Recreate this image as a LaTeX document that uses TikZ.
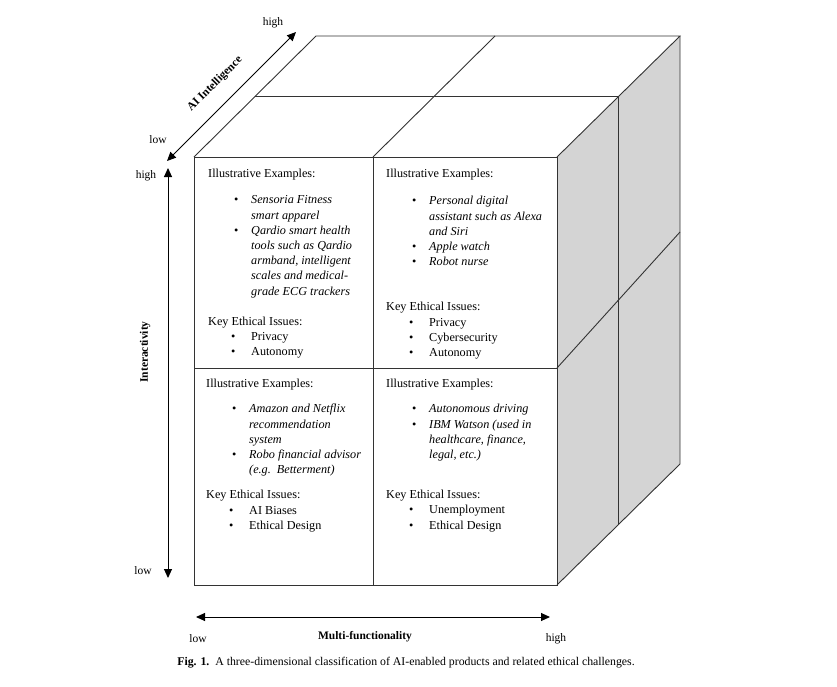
\documentclass[tikz,border=0pt]{standalone}
\usepackage{fontspec}
\setmainfont{Liberation Serif}
\usetikzlibrary{arrows.meta}
\newcommand{\exitem}[1]{\hspace*{26pt}\makebox[17pt][l]{\textbullet}\textit{#1}}
\newcommand{\excont}[1]{\hspace*{43pt}\textit{#1}}
\newcommand{\keyitem}[1]{\hspace*{23pt}\makebox[20pt][l]{\textbullet}#1}
\tikzset{
	edge/.style={line width=0.9pt, color=black!80},
	dimarrow/.style={line width=1pt, {Triangle[length=9pt,width=8pt]}-{Triangle[length=9pt,width=8pt]}},
	celltext/.style={anchor=north west, inner sep=0pt, align=left, font=\fontsize{12.2}{15.2}\selectfont},
	axislabel/.style={inner sep=0pt, font=\fontsize{11.5}{13}\selectfont},
	axistitle/.style={inner sep=0pt, font=\fontsize{11.5}{13}\selectfont\bfseries},
}

\begin{document}
\begin{tikzpicture}[x=1pt, y=-1pt]
			%%%%% START %%%%%
			\useasboundingbox (0, 0) rectangle (837, 686);
			
			\fill[color=black!17] (557, 157) -- (680, 36) -- (680, 464) -- (557, 585) -- cycle;
			
			\draw[edge] (194, 157) rectangle (557, 585);
			\draw[edge] (373, 157) -- (373, 585);
			\draw[edge] (194, 368) -- (557, 368);
			
			\draw[edge] (194, 157) -- (316, 36) -- (680, 36) -- (557, 157);
			\draw[edge] (255, 96) -- (618, 96);
			\draw[edge] (373, 157) -- (495, 36);
			
			\draw[edge] (680, 36) -- (680, 464) -- (557, 585);
			\draw[edge] (618, 96) -- (618, 524);
			\draw[edge] (557, 368) -- (680, 232);
			
			\node[celltext] (tl) at (208, 169) {Illustrative Examples:\\[11pt]
				\exitem{Sensoria Fitness}\\
				\excont{smart apparel}\\
				\exitem{Qardio smart health}\\
				\excont{tools such as Qardio}\\
				\excont{armband, intelligent}\\
				\excont{scales and medical-}\\
				\excont{grade ECG trackers}\\[15pt]
				Key Ethical Issues:\\
				\keyitem{Privacy}\\
				\keyitem{Autonomy}};
			
			\node[celltext] (tr) at (386, 169) {Illustrative Examples:\\[12pt]
				\exitem{Personal digital}\\
				\excont{assistant such as Alexa}\\
				\excont{and Siri}\\
				\exitem{Apple watch}\\
				\exitem{Robot nurse}\\[30pt]
				Key Ethical Issues:\\
				\keyitem{Privacy}\\
				\keyitem{Cybersecurity}\\
				\keyitem{Autonomy}};
			
			\node[celltext] (bl) at (206, 379) {Illustrative Examples:\\[10pt]
				\exitem{Amazon and Netflix}\\
				\excont{recommendation}\\
				\excont{system}\\
				\exitem{Robo financial advisor}\\
				\excont{(e.g.\ \ Betterment)}\\[10pt]
				Key Ethical Issues:\\
				\keyitem{AI Biases}\\
				\keyitem{Ethical Design}};
			
			\node[celltext] (br) at (386, 379) {Illustrative Examples:\\[10pt]
				\exitem{Autonomous driving}\\
				\exitem{IBM Watson (used in}\\
				\excont{healthcare, finance,}\\
				\excont{legal, etc.)}\\[25pt]
				Key Ethical Issues:\\
				\keyitem{Unemployment}\\
				\keyitem{Ethical Design}};
			
			\coordinate (ailow) at (167, 161);
			\coordinate (aihigh) at (296, 32);
			\draw[dimarrow] (ailow) -- (aihigh);
			\node[axistitle, rotate=45] (aititle) at (215, 84) {AI Intelligence};
			\node[axislabel] (aihightext) at (273, 23) {high};
			\node[axislabel] (ailowtext) at (158, 140) {low};
			
			\coordinate (inhigh) at (168, 168);
			\coordinate (inlow) at (168, 578);
			\draw[dimarrow] (inhigh) -- (inlow);
			\node[axistitle, rotate=90] (intitle) at (145, 352) {Interactivity};
			\node[axislabel] (inhightext) at (146, 176) {high};
			\node[axislabel] (inlowtext) at (143, 571) {low};
			
			\coordinate (mflow) at (196, 617);
			\coordinate (mfhigh) at (550, 617);
			\draw[dimarrow] (mflow) -- (mfhigh);
			\node[axistitle] (mftitle) at (365, 637) {Multi-functionality};
			\node[axislabel] (mflowtext) at (198, 639) {low};
			\node[axislabel] (mfhightext) at (556, 639) {high};
			
			\node[inner sep=0pt, font=\fontsize{11.8}{13}\selectfont] (caption) at (406, 663) {\textbf{Fig. 1.}\enspace A three-dimensional classification of AI-enabled products and related ethical challenges.};
			%%%%% END %%%%%
\end{tikzpicture}
\end{document}
